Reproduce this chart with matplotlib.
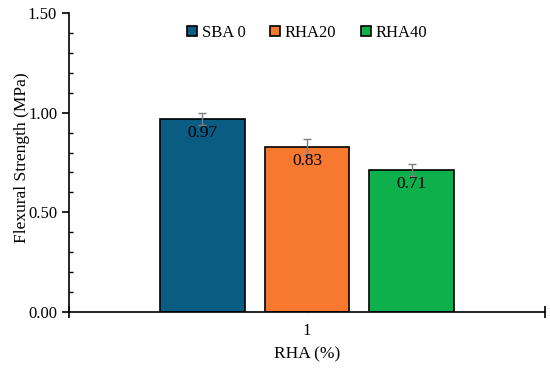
import numpy as np
import matplotlib.pyplot as plt
from matplotlib.ticker import MultipleLocator, FixedLocator

plt.rcParams['font.family'] = ['Liberation Serif', 'DejaVu Serif']

series = ['SBA 0', 'RHA20', 'RHA40']
values = [0.97, 0.83, 0.71]
errors = [0.03, 0.04, 0.03]
colors = ['#0A5C82', '#F7792F', '#0DB04B']
category = 1

fig = plt.figure(figsize=(5.5, 3.69), dpi=100)
ax = fig.add_axes([0.1255, 0.1545, 0.8655, 0.8103])

width = 0.178
step = 0.22
for i, (name, v, e, c) in enumerate(zip(series, values, errors, colors)):
    x = category + (i - 1) * step
    ax.bar(x, v, width, color=c, edgecolor='black', linewidth=1.2, label=name, zorder=2)
    ax.errorbar(x, v, yerr=e, fmt='none', ecolor='#7f7f7f', elinewidth=1,
                capsize=3, capthick=1, zorder=3)
    ax.text(x, v - 0.03, f'{v:.2f}', ha='center', va='top', fontsize=12.5, zorder=4)

ax.set_xlim(0.5, 1.5)
ax.set_ylim(0, 1.5)
ax.set_xticks([category])
ax.set_xticklabels(['1'])
ax.xaxis.set_minor_locator(FixedLocator([0.5, 1.5]))
ax.yaxis.set_major_locator(MultipleLocator(0.5))
ax.yaxis.set_minor_locator(MultipleLocator(0.1))
ax.yaxis.set_major_formatter(plt.FormatStrFormatter('%.2f'))
ax.tick_params(axis='y', which='major', direction='out', length=5, width=1.2, labelsize=12)
ax.tick_params(axis='y', which='minor', direction='in', length=3, width=1)
ax.tick_params(axis='x', which='major', direction='in', length=3, width=1, labelsize=12, pad=8)
ax.tick_params(axis='x', which='minor', direction='inout', length=8, width=1.2)

for s in ['top', 'right']:
    ax.spines[s].set_visible(False)
for s in ['left', 'bottom']:
    ax.spines[s].set_linewidth(1.2)

ax.set_xlabel('RHA (%)', fontsize=12.5, labelpad=5)
ax.set_ylabel('Flexural Strength (MPa)', fontsize=12.5)
ax.yaxis.set_label_coords(-0.083, 0.517)

ax.legend(loc='upper center', bbox_to_anchor=(0.5, 1.01), ncol=3, frameon=False,
          fontsize=12, handlelength=0.6, handleheight=0.6, handletextpad=0.25,
          columnspacing=1.5)

fig.savefig('out.png', dpi=100)
